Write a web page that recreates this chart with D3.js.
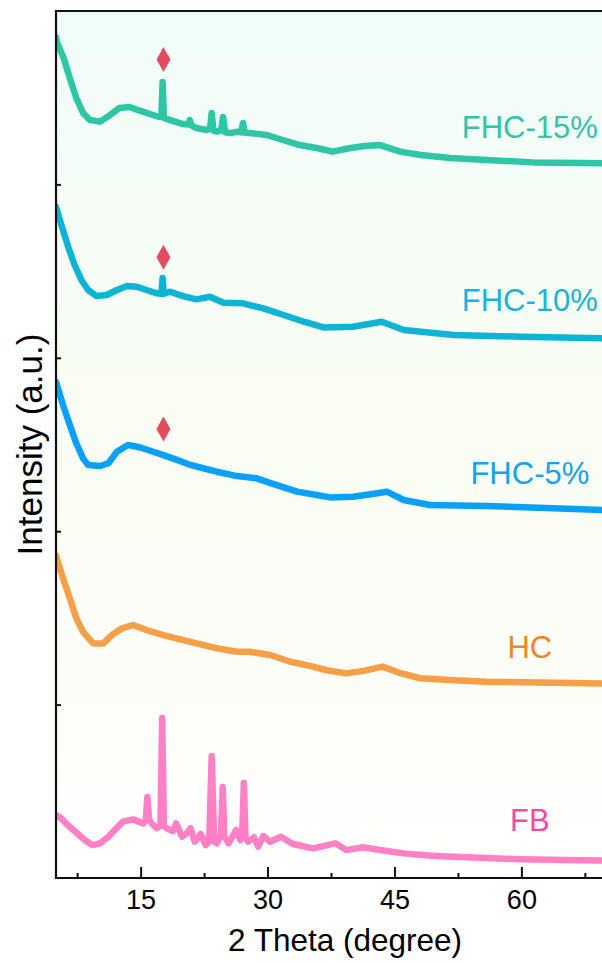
<!DOCTYPE html>
<html>
<head>
<meta charset="utf-8">
<script src="https://cdn.jsdelivr.net/npm/d3@7"></script>
<style>
  html, body { margin: 0; padding: 0; background: #fff; overflow: hidden; }
  svg { display: block; font-family: "Liberation Sans", Arial, sans-serif; }
</style>
</head>
<body>
<div id="chart"></div>
<script>
// sample names, bottom to top
const names = ["FB", "HC", "FHC-5%", "FHC-10%", "FHC-15%"];

// [2theta, intensity (a.u., normalised)]
const fb = [[5.1,0.36],[5.6,0.345],[6.5,0.3],[7.5,0.258],[8.5,0.215],[9.3,0.19],[10.2,0.2],[11.2,0.238],[12.0,0.28],[12.9,0.325],[14.1,0.338],[15.3,0.315],[15.6,0.33],[15.8,0.467],[16.0,0.34],[16.3,0.315],[16.9,0.287],[17.35,0.3],[17.55,0.923],[17.75,0.3],[18.1,0.287],[18.8,0.27],[19.2,0.315],[19.9,0.238],[20.5,0.26],[20.9,0.287],[21.4,0.209],[22.1,0.254],[22.7,0.19],[23.1,0.21],[23.4,0.704],[23.7,0.21],[24.0,0.2],[24.5,0.25],[24.7,0.525],[24.9,0.24],[25.4,0.2],[26.3,0.277],[26.8,0.219],[27.0,0.25],[27.2,0.548],[27.4,0.23],[27.7,0.209],[28.4,0.235],[28.9,0.181],[29.5,0.242],[30.3,0.209],[31.6,0.238],[33.0,0.196],[35.4,0.171],[38.0,0.2],[39.3,0.161],[41.3,0.177],[43.5,0.16],[46.1,0.142],[49.0,0.13],[52.0,0.123],[56.0,0.115],[59.9,0.108],[65.0,0.104],[70,0.1]];
const hc = [[5.0,0.86],[5.9,0.719],[6.7,0.603],[7.4,0.498],[8.2,0.42],[9.4,0.353],[10.6,0.353],[11.6,0.401],[12.8,0.44],[14.1,0.459],[15.7,0.43],[17.7,0.401],[19.7,0.376],[21.6,0.353],[24.0,0.325],[26.4,0.305],[27.9,0.305],[30.3,0.286],[32.7,0.247],[35.0,0.223],[37.0,0.198],[39.3,0.18],[41.5,0.196],[43.6,0.219],[45.5,0.185],[48.0,0.152],[52.0,0.14],[55.9,0.132],[62.0,0.127],[70,0.122]];
const fhc5 = [[5.0,0.86],[5.9,0.718],[6.7,0.603],[7.4,0.507],[8.2,0.42],[8.8,0.382],[10.2,0.376],[11.2,0.392],[12.2,0.458],[13.5,0.497],[14.9,0.484],[16.5,0.458],[17.7,0.439],[19.3,0.411],[20.9,0.382],[22.4,0.363],[24.0,0.343],[26.4,0.318],[28.7,0.305],[31.1,0.266],[33.5,0.228],[35.8,0.209],[37.4,0.195],[40.1,0.199],[42.0,0.212],[44.1,0.228],[46.1,0.18],[49.2,0.151],[55.9,0.145],[63.8,0.132],[70,0.122]];
const fhc10 = [[5.0,0.87],[5.7,0.756],[6.5,0.631],[7.2,0.535],[8.0,0.449],[8.8,0.391],[9.8,0.356],[11.0,0.362],[12.2,0.391],[13.4,0.414],[14.5,0.41],[15.7,0.391],[16.9,0.372],[17.45,0.37],[17.6,0.46],[17.75,0.37],[18.5,0.381],[20.0,0.356],[21.6,0.337],[23.2,0.352],[24.8,0.318],[27.1,0.314],[29.5,0.285],[31.9,0.247],[34.3,0.208],[36.6,0.175],[40.1,0.179],[43.5,0.208],[46.1,0.16],[52.0,0.131],[59.9,0.122],[70,0.112]];
const fhc15 = [[5.0,0.85],[5.1,0.821],[5.9,0.729],[6.7,0.602],[7.4,0.498],[8.2,0.412],[9.0,0.371],[10.2,0.362],[11.1,0.39],[12.5,0.441],[13.7,0.446],[14.9,0.425],[16.1,0.406],[17.1,0.39],[17.45,0.389],[17.6,0.591],[17.75,0.383],[18.5,0.371],[20.0,0.348],[20.6,0.345],[20.8,0.371],[21.0,0.34],[21.6,0.325],[22.8,0.314],[23.2,0.32],[23.4,0.412],[23.6,0.31],[24.0,0.304],[24.5,0.31],[24.75,0.389],[25.0,0.3],[25.6,0.296],[26.4,0.304],[26.9,0.3],[27.1,0.354],[27.3,0.298],[27.9,0.296],[29.9,0.285],[31.8,0.256],[33.8,0.227],[35.8,0.21],[37.7,0.189],[39.8,0.21],[41.5,0.221],[43.3,0.227],[45.7,0.189],[48.1,0.17],[51.6,0.152],[57.5,0.137],[61.4,0.127],[70,0.122]];

// vertical offset of each pattern (stacked)
const offsets = [0, 1, 2, 3, 4];

// diamond markers: [2theta, height above own baseline] for FHC-5%, 10%, 15%
const markerSeries = [2, 3, 4];
const markerPts = [[17.7, 0.59], [17.7, 0.58], [17.7, 0.72]];

const xTicks = [15, 30, 45, 60];
const xMinor = [7.5, 22.5, 37.5, 52.5, 67.5];
const yTicks = [1, 2, 3, 4];

const lineColors = ["#ff80c4", "#f59f46", "#0aa0f5", "#0db4d4", "#2ec6a4"];
const textColors = ["#ff45a6", "#f08426", "#14a2f2", "#17b5d7", "#33c5a5"];

const width = 602;
const height = 963;
const marginTop = 11;
const marginLeft = 56;
const plotRight = 606;
const plotBottom = 878;

const series = [fb, hc, fhc5, fhc10, fhc15];

const x = d3.scaleLinear().domain([5, 70]).range([marginLeft, plotRight]);
const y = d3.scaleLinear().domain([0, 5]).range([plotBottom, marginTop]);

const svg = d3.create("svg").attr("width", width).attr("height", height);

// background gradient
const defs = svg.append("defs");
const grad = defs.append("linearGradient").attr("id", "bg")
  .attr("x1", 0).attr("y1", 0).attr("x2", 0).attr("y2", 1);
grad.append("stop").attr("offset", "0%").attr("stop-color", "#f1fdfa");
grad.append("stop").attr("offset", "45%").attr("stop-color", "#f9fdf3");
grad.append("stop").attr("offset", "75%").attr("stop-color", "#fdfdf7");
grad.append("stop").attr("offset", "100%").attr("stop-color", "#ffffff");

defs.append("clipPath").attr("id", "clip")
  .append("rect")
  .attr("x", marginLeft).attr("y", marginTop)
  .attr("width", plotRight - marginLeft).attr("height", plotBottom - marginTop);

svg.append("rect")
  .attr("x", marginLeft).attr("y", marginTop)
  .attr("width", plotRight - marginLeft).attr("height", plotBottom - marginTop)
  .attr("fill", "url(#bg)");

// patterns
const line = d3.line().x((d) => x(d[0]));
const curves = svg.append("g").attr("clip-path", "url(#clip)");
series.forEach((s, i) => {
  curves.append("path")
    .datum(s)
    .attr("fill", "none")
    .attr("stroke", lineColors[i])
    .attr("stroke-width", 6.5)
    .attr("stroke-linejoin", "round")
    .attr("stroke-linecap", "round")
    .attr("d", line.y((d) => y(d[1] + offsets[i])));
});

// diamonds
markerPts.forEach((p, k) => {
  const cx = x(p[0]);
  const cy = y(p[1] + offsets[markerSeries[k]]);
  svg.append("path")
    .attr("d", `M${cx},${cy - 12.5}L${cx + 7},${cy}L${cx},${cy + 12.5}L${cx - 7},${cy}Z`)
    .attr("fill", "#e64b5d");
});

// sample labels
names.forEach((n, i) => {
  svg.append("text")
    .attr("x", x(61))
    .attr("y", y(offsets[i] + 0.27))
    .attr("text-anchor", "middle")
    .attr("fill", textColors[i])
    .attr("font-size", 31)
    .text(n);
});

// axes
const axisColor = "#111";
svg.append("g")
  .attr("transform", `translate(0,${plotBottom})`)
  .call(d3.axisBottom(x).tickValues(xTicks).tickSizeInner(-11).tickSizeOuter(0).tickFormat(d3.format("d")))
  .call((g) => g.select(".domain").remove())
  .call((g) => g.selectAll(".tick line").attr("stroke", axisColor).attr("stroke-width", 2))
  .call((g) => g.selectAll(".tick text").attr("fill", "#000").attr("font-size", 27)
    .attr("font-family", "Liberation Sans, Arial, sans-serif").attr("dy", null).attr("y", 31));

svg.append("g")
  .attr("transform", `translate(0,${plotBottom})`)
  .call(d3.axisBottom(x).tickValues(xMinor).tickSizeInner(-5).tickSizeOuter(0).tickFormat(""))
  .call((g) => g.select(".domain").remove())
  .call((g) => g.selectAll(".tick line").attr("stroke", axisColor).attr("stroke-width", 2));

svg.append("g")
  .attr("transform", `translate(${marginLeft},0)`)
  .call(d3.axisLeft(y).tickValues(yTicks).tickSizeInner(-5).tickSizeOuter(0).tickFormat(""))
  .call((g) => g.select(".domain").remove())
  .call((g) => g.selectAll(".tick line").attr("stroke", axisColor).attr("stroke-width", 2));

// frame: left, top, bottom
svg.append("path")
  .attr("d", `M${plotRight},${marginTop}H${marginLeft}V${plotBottom}H${plotRight}`)
  .attr("fill", "none")
  .attr("stroke", axisColor)
  .attr("stroke-width", 2.2);

// axis titles
svg.append("text")
  .attr("x", 345)
  .attr("y", 951)
  .attr("text-anchor", "middle")
  .attr("fill", "#000")
  .attr("font-size", 31.5)
  .text("2 Theta (degree)");

svg.append("text")
  .attr("transform", `translate(42,${(marginTop + plotBottom) / 2}) rotate(-90)`)
  .attr("text-anchor", "middle")
  .attr("fill", "#000")
  .attr("font-size", 35)
  .text("Intensity (a.u.)");

d3.select("#chart").node().appendChild(svg.node());
</script>
</body>
</html>
